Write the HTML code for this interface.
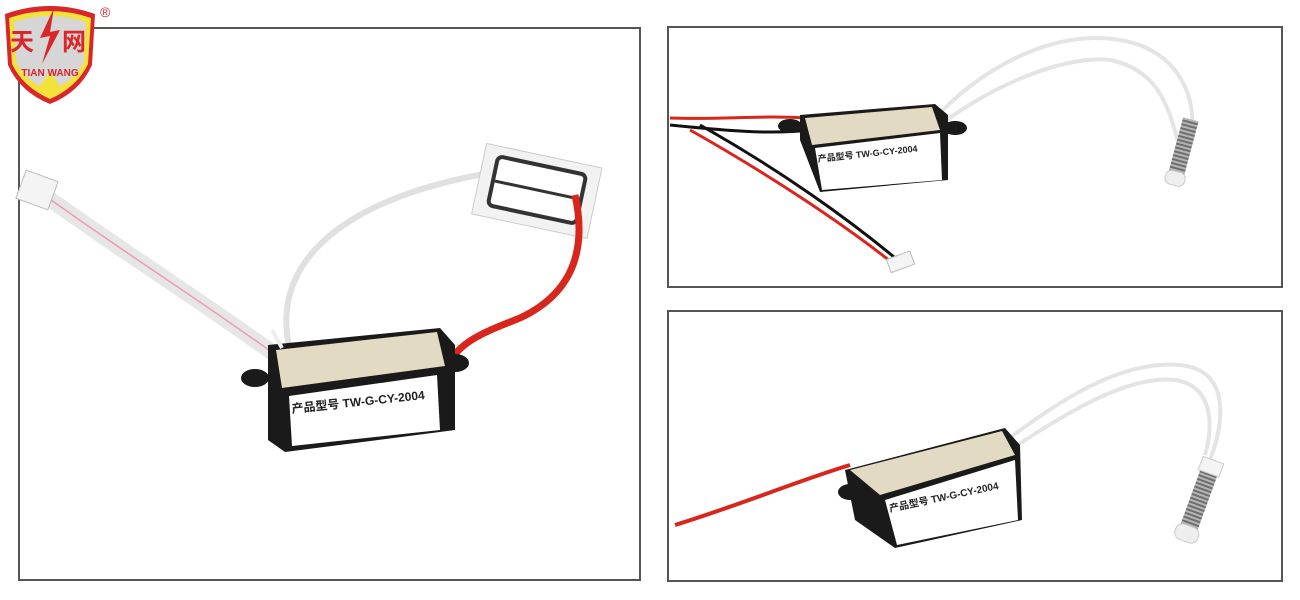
<!DOCTYPE html>
<html><head><meta charset="utf-8"><style>
body{margin:0;background:#fff;width:1300px;height:600px;overflow:hidden}
svg{display:block}
</style></head><body>
<svg width="1300" height="600" viewBox="0 0 1300 600" xmlns="http://www.w3.org/2000/svg">
<defs>
<pattern id="spr" width="4" height="4" patternUnits="userSpaceOnUse"><rect width="4" height="4" fill="#b5b5b5"/><rect width="4" height="2" fill="#6e6e6e"/></pattern>
</defs>
<!-- frames -->
<rect x="19" y="28" width="621" height="552" fill="#fff" stroke="#555" stroke-width="2"/>
<rect x="668" y="27" width="614" height="260" fill="#fff" stroke="#555" stroke-width="2"/>
<rect x="668" y="311" width="614" height="270" fill="#fff" stroke="#555" stroke-width="2"/>

<!-- logo -->
<path d="M5,14 Q50,-2 95,14 L92,65 Q80,92 50,104 Q20,92 8,65 Z" fill="#d8262b"/>
<path d="M9,18 Q50,4 91,18 L88,64 Q77,87 50,99 Q23,87 12,64 Z" fill="#f3e23a"/>
<path d="M14,22 Q50,10 86,22 L84,62 Q74,80 60,86 L50,72 L40,86 Q26,80 16,62 Z" fill="#d6d6d6"/>
<text x="10" y="50" font-family="Noto Sans CJK SC,sans-serif" font-size="24" font-weight="bold" fill="#d8262b">天</text>
<text x="62" y="50" font-family="Noto Sans CJK SC,sans-serif" font-size="24" font-weight="bold" fill="#d8262b">网</text>
<path d="M54,8 L40,38 L50,36 L42,64 L60,30 L50,32 Z" fill="#d8262b"/>
<text x="50" y="76" text-anchor="middle" font-family="Liberation Sans,sans-serif" font-size="10" font-weight="bold" fill="#d8262b">TIAN WANG</text>
<text x="100" y="17" font-family="Liberation Sans,sans-serif" font-size="14" fill="#d8262b">®</text>

<!-- LEFT PANEL -->
<path d="M40,192 C120,250 200,300 280,358" stroke="#e6e6e6" stroke-width="16" fill="none"/>
<path d="M40,192 C120,250 200,300 280,358" stroke="#e8a0b0" stroke-width="1.5" fill="none"/>
<rect x="20" y="175" width="34" height="30" fill="#f4f4f4" stroke="#bbb" transform="rotate(20 37 190)"/>
<path d="M290,350 C270,270 330,200 495,172" stroke="#e0e0e0" stroke-width="6" fill="none"/>
<g transform="rotate(12 537 190)">
<rect x="478" y="155" width="118" height="72" fill="#f2f2f2" stroke="#ccc"/>
<rect x="492" y="165" width="90" height="50" rx="5" fill="#fff" stroke="#333" stroke-width="4"/>
<line x1="494" y1="190" x2="580" y2="190" stroke="#333" stroke-width="3"/>
</g>
<path d="M575,195 C585,240 580,290 520,318 C490,330 460,340 448,365" stroke="#d9261c" stroke-width="7" fill="none"/>
<ellipse cx="255" cy="378" rx="14" ry="9" fill="#1a1a1a"/>
<ellipse cx="455" cy="363" rx="14" ry="9" fill="#1a1a1a"/>
<path d="M268,345 L440,328 L455,345 L455,430 L285,452 L268,440 Z" fill="#1a1a1a"/>
<path d="M276,350 L437,332 L445,366 L282,388 Z" fill="#e3dac3"/>
<path d="M289,396 L437,375 L440,430 L292,446 Z" fill="#fff"/>
<text x="292" y="413" transform="rotate(-6 292 413)" font-family="Liberation Sans,Noto Sans CJK SC,sans-serif" font-size="12" font-weight="bold" fill="#222">产品型号 TW-G-CY-2004</text>
<path d="M282,348 L272,330" stroke="#eee" stroke-width="4"/>

<!-- TOP RIGHT -->
<path d="M670,118 C720,120 760,115 805,118" stroke="#d9261c" stroke-width="3" fill="none"/>
<path d="M670,125 C720,130 770,135 810,130" stroke="#111" stroke-width="3" fill="none"/>
<path d="M700,125 C780,170 850,220 900,262" stroke="#111" stroke-width="3" fill="none"/>
<path d="M690,130 C770,175 845,225 895,265" stroke="#d9261c" stroke-width="3" fill="none"/>
<rect x="888" y="255" width="25" height="14" fill="#f4f4f4" stroke="#bbb" transform="rotate(-20 900 262)"/>
<path d="M935,118 C990,60 1060,30 1120,40 C1180,50 1200,100 1190,145" stroke="#e4e4e4" stroke-width="4" fill="none"/>
<path d="M940,125 C1000,80 1070,55 1110,60 C1160,70 1170,110 1180,150" stroke="#e4e4e4" stroke-width="4" fill="none"/>
<g transform="rotate(15 1180 160)">
<rect x="1172" y="118" width="16" height="55" fill="url(#spr)"/>
<rect x="1170" y="172" width="20" height="14" rx="6" fill="#eee" stroke="#ccc"/>
</g>
<ellipse cx="790" cy="126" rx="12" ry="7" fill="#1a1a1a"/>
<ellipse cx="955" cy="128" rx="12" ry="7" fill="#1a1a1a"/>
<path d="M800,115 L935,104 L948,115 L948,180 L820,192 L800,140 Z" fill="#1a1a1a"/>
<path d="M805,118 L932,107 L940,130 L812,145 Z" fill="#e3dac3"/>
<path d="M815,148 L940,133 L942,180 L822,190 Z" fill="#fff"/>
<text x="818" y="162" transform="rotate(-6 818 162)" font-family="Liberation Sans,Noto Sans CJK SC,sans-serif" font-size="9" font-weight="bold" fill="#222">产品型号 TW-G-CY-2004</text>

<!-- BOTTOM RIGHT -->
<path d="M675,525 C740,505 800,480 850,465" stroke="#d9261c" stroke-width="4" fill="none"/>
<path d="M1000,445 C1060,400 1120,360 1180,365 C1230,370 1225,420 1210,460" stroke="#e4e4e4" stroke-width="4" fill="none"/>
<path d="M1010,450 C1070,410 1130,375 1175,380 C1210,385 1215,420 1205,455" stroke="#e4e4e4" stroke-width="4" fill="none"/>
<g transform="rotate(20 1200 500)">
<rect x="1190" y="470" width="18" height="60" fill="url(#spr)"/>
<rect x="1187" y="528" width="24" height="16" rx="7" fill="#eee" stroke="#ccc"/>
<rect x="1188" y="458" width="22" height="14" fill="#f4f4f4" stroke="#ccc"/>
</g>
<ellipse cx="850" cy="492" rx="12" ry="8" fill="#1a1a1a"/>
<path d="M845,470 L1005,428 L1020,445 L1022,520 L895,548 L855,520 Z" fill="#1a1a1a"/>
<path d="M850,470 L1002,431 L1015,455 L880,495 Z" fill="#e3dac3"/>
<path d="M885,500 L1015,460 L1018,520 L897,545 Z" fill="#fff"/>
<text x="890" y="512" transform="rotate(-12 890 512)" font-family="Liberation Sans,Noto Sans CJK SC,sans-serif" font-size="10" font-weight="bold" fill="#222">产品型号 TW-G-CY-2004</text>
</svg>
</body></html>
